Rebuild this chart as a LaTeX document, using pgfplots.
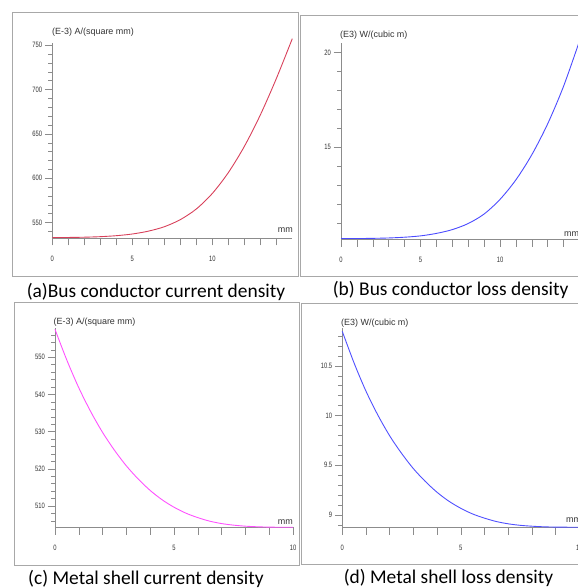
\documentclass[border=0pt]{standalone}
\usepackage{pgfplots}
\pgfplotsset{compat=1.18}
\usepackage{fontspec}
\setmainfont{Carlito}
\newfontfamily\arialf{Liberation Sans}
\definecolor{axgray}{HTML}{8C8C8C}
\definecolor{txtgray}{HTML}{333333}
\definecolor{framegray}{HTML}{A8A8A8}
\definecolor{cA}{HTML}{D8405A}
\definecolor{cB}{HTML}{4B4BFF}
\definecolor{cC}{HTML}{FF50FF}
\definecolor{cD}{HTML}{5050FF}
\pgfplotsset{
  panel/.style={
    axis x line=bottom, axis y line=left,
    axis line style={axgray, line width=0.8pt, -},
    tick align=outside,
    major tick length=7.5bp, minor tick length=4bp,
    tick style={axgray, line width=0.6pt},
    /pgf/number format/assume math mode=true,
    tick label style={font=\arialf\fontsize{7.8}{8}\selectfont, text=txtgray, xscale=0.75},
    scale only axis, clip=false, anchor=south west,
    xticklabel shift=7bp,
  }
}
\begin{document}
\begin{tikzpicture}
\useasboundingbox (0,0) rectangle (578bp,588bp);
\clip (0,0) rectangle (578bp,588bp);
% frames
\draw[framegray, line width=0.8pt] (12bp,312bp) rectangle (298bp,576bp);
\draw[framegray, line width=0.8pt] (300.5bp,311.5bp) rectangle (590bp,573bp);
\draw[framegray, line width=0.8pt] (14bp,23bp) rectangle (299bp,285.7bp);
\draw[framegray, line width=0.8pt] (301.5bp,23.7bp) rectangle (590bp,284.7bp);

% (a)
\begin{axis}[panel, at={(52.3bp,350bp)}, x=16bp, y=0.8868bp,
  xmin=0, xmax=15, ymin=532.7, ymax=752.5,
  xtick={0,...,14}, xticklabels={0,,,,,5,,,,,10},
  ytick={550,600,650,700,750}, minor ytick={540,550,...,750}]
\addplot[cA, line width=0.9pt, smooth] coordinates {
(0,533.2) (1,533.3) (2,533.6) (3,534.2) (4,535.3) (5,537.2) (6,540.4) (7,545.4)
(8,553.4) (9,565.4) (10,582.9) (11,606.4) (12,635.9) (13,671.4) (14,712.4) (15,757.5)};
\end{axis}

% (b)
\begin{axis}[panel, at={(341bp,348.7bp)}, x=15.9bp, y=19bp,
  xmin=0, xmax=15, ymin=10.16, ymax=20.5,
  xtick={0,...,14}, xticklabels={0,,,,,5,,,,,10},
  ytick={15,20}, minor ytick={11,...,20}]
\addplot[cB, line width=0.9pt, smooth] coordinates {
(0,10.20) (1,10.20) (2,10.21) (3,10.23) (4,10.27) (5,10.34) (6,10.47) (7,10.67)
(8,10.99) (9,11.49) (10,12.26) (11,13.29) (12,14.61) (13,16.24) (14,18.22) (15,20.6)};
\end{axis}

% (c)
\begin{axis}[panel, at={(55bp,60.7bp)}, x=23.8bp, y=3.72bp,
  xmin=0, xmax=10, ymin=504.3, ymax=557.8,
  xtick={0,...,10}, xticklabels={0,,,,,5,,,,,10},
  ytick={510,520,...,550}, minor ytick={506,508,...,556}]
\addplot[cC, line width=0.9pt, smooth] coordinates {
(0,557.5) (0.5,549.2) (1,541.8) (1.5,535.4) (2,529.8) (2.5,525.0) (3,520.8) (3.5,517.25)
(4,514.2) (4.5,511.7) (5,509.7) (5.5,508.1) (6,506.9) (6.5,505.95) (7,505.3) (7.5,504.88)
(8,504.6) (8.5,504.44) (9,504.35) (9.5,504.31) (10,504.3)};
\end{axis}

% (d)
\begin{axis}[panel, at={(342.3bp,60.7bp)}, x=23.7bp, y=99.4bp,
  xmin=0, xmax=10, ymin=8.876, ymax=10.88,
  xtick={0,...,10}, xticklabels={0,,,,,5,,,,,10},
  ytick={9,9.5,10,10.5},
  minor ytick={8.9,9,9.1,9.2,9.3,9.4,9.5,9.6,9.7,9.8,9.9,10,10.1,10.2,10.3,10.4,10.5,10.6,10.7,10.8}]
\addplot[cD, line width=0.9pt, smooth] coordinates {
(0,10.847) (0.5,10.527) (1,10.245) (1.5,10.005) (2,9.796) (2.5,9.620) (3,9.466) (3.5,9.338)
(4,9.228) (4.5,9.138) (5,9.067) (5.5,9.010) (6,8.968) (6.5,8.934) (7,8.911) (7.5,8.896)
(8,8.887) (8.5,8.881) (9,8.878) (9.5,8.877) (10,8.876)};
\end{axis}

% axis unit labels
\begin{scope}[every node/.style={font=\arialf\fontsize{9}{10}\selectfont, text=txtgray, inner sep=0pt}]
\node[anchor=west] at (52bp,555.5bp) {(E-3) A/(square mm)};
\node[anchor=west] at (340bp,553bp) {(E3) W/(cubic m)};
\node[anchor=west] at (53.5bp,265.7bp) {(E-3) A/(square mm)};
\node[anchor=west] at (341bp,264.7bp) {(E3) W/(cubic m)};
\node[anchor=east] at (293bp,358bp) {mm};
\node[anchor=west] at (564bp,354bp) {mm};
\node[anchor=east] at (293bp,66.3bp) {mm};
\node[anchor=west] at (566bp,68bp) {mm};
\end{scope}

% captions
\begin{scope}[every node/.style={font=\fontsize{19.5}{22}\selectfont, inner sep=0pt}]
\node at (156bp,296.3bp) {(a)Bus conductor current density};
\node at (450.7bp,298bp) {(b) Bus conductor loss density};
\node at (146bp,9bp) {(c) Metal shell current density};
\node at (448.5bp,10bp) {(d) Metal shell loss density};
\end{scope}
\end{tikzpicture}
\end{document}
